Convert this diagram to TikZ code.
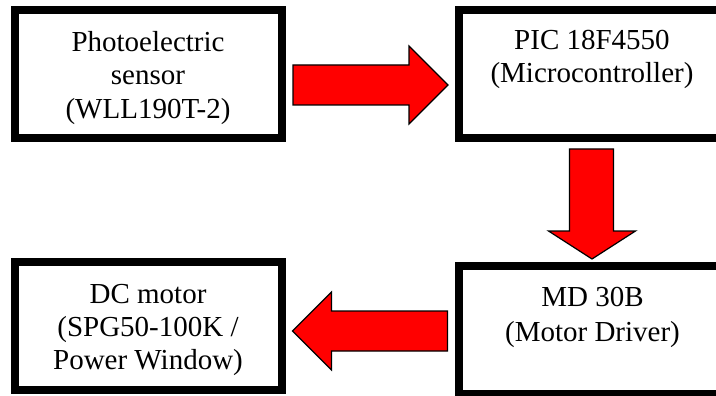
\documentclass[tikz,border=0pt]{standalone}
\usepackage{fontspec}
\setmainfont{Liberation Serif}
\begin{document}
\begin{tikzpicture}[x=1pt,y=-1pt,
  box/.style={draw=black,line width=8pt,fill=white,minimum width=267pt,minimum height=128pt,inner sep=0pt},
  txt/.style={anchor=base,inner sep=0pt,font=\fontsize{29}{33}\selectfont},
  barrow/.style={fill=red,draw=black,line width=1.2pt,line join=miter}]
\useasboundingbox (0,0) rectangle (716,396);
\clip (0,0) rectangle (716,396);
% boxes
\node[box] (sensor) at (148.5,74) {};
\node[box] (pic) at (592,74) {};
\node[box] (motor) at (148.5,326) {};
\node[box] (driver) at (592,330) {};
% texts
\node[txt] (s1) at (148,52) {Photoelectric};
\node[txt] (s2) at (148,85) {sensor};
\node[txt] (s3) at (148,118) {(WLL190T-2)};
\node[txt] (p1) at (592,50) {PIC 18F4550};
\node[txt] (p2) at (592,83) {(Microcontroller)};
\node[txt] (m1) at (148,303) {DC motor};
\node[txt] (m2) at (148,336) {(SPG50-100K /};
\node[txt] (m3) at (148,369) {Power Window)};
\node[txt] (d1) at (592.5,306) {MD 30B};
\node[txt] (d2) at (592.5,341) {(Motor Driver)};
% block arrows
\path (sensor.east) ++(7,11) coordinate (ra);
\draw[barrow] (ra) ++(0,-20) -- ++(116,0) -- ++(0,-19) -- ++(39,39) -- ++(-39,39) -- ++(0,-19) -- ++(-116,0) -- cycle;
\path (pic.south) ++(-0.5,7) coordinate (da);
\draw[barrow] (da) ++(-22,0) -- ++(44,0) -- ++(0,82) -- ++(22,0) -- ++(-43.5,28) -- ++(-43.5,-28) -- ++(21,0) -- cycle;
\path (driver.west) ++(-7,1) coordinate (la);
\draw[barrow] (la) ++(0,-20) -- ++(-116,0) -- ++(0,-19) -- ++(-39,39) -- ++(39,39) -- ++(0,-19) -- ++(116,0) -- cycle;
\end{tikzpicture}
\end{document}
